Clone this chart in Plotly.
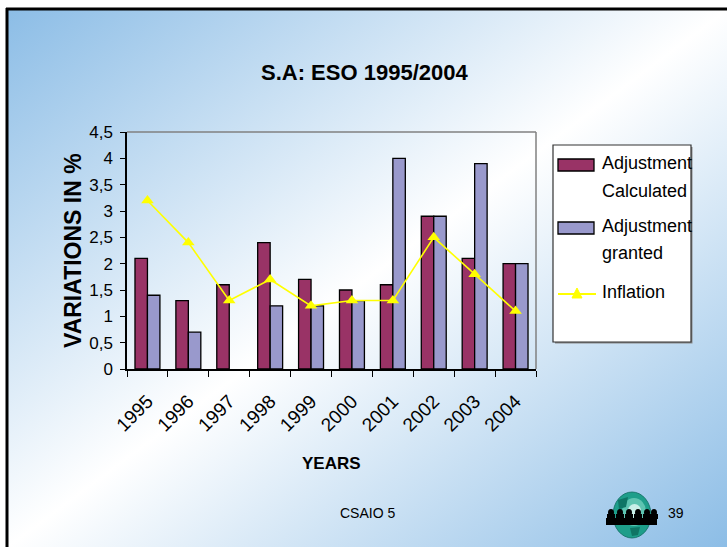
import base64
import plotly.graph_objects as go

# ---- data ----
YEARS = ["1995", "1996", "1997", "1998", "1999", "2000", "2001", "2002", "2003", "2004"]
ADJ_CALCULATED = [2.1, 1.3, 1.6, 2.4, 1.7, 1.5, 1.6, 2.9, 2.1, 2.0]
ADJ_GRANTED = [1.4, 0.7, None, 1.2, 1.2, 1.3, 4.0, 2.9, 3.9, 2.0]
INFLATION = [3.2, 2.4, 1.3, 1.7, 1.2, 1.3, 1.3, 2.5, 1.8, 1.1]
Y_TICK_VALUES = [0, 0.5, 1, 1.5, 2, 2.5, 3, 3.5, 4, 4.5]
Y_TICK_LABELS = ["0", "0,5", "1", "1,5", "2", "2,5", "3", "3,5", "4", "4,5"]

TITLE = "S.A: ESO 1995/2004"
X_TITLE = "YEARS"
Y_TITLE = "VARIATIONS IN %"
SERIES_NAMES = [["Adjustment", "Calculated"], ["Adjustment", "granted"], ["Inflation"]]
FOOTER = "CSAIO 5"
PAGE = "39"

# ---- geometry ----
W, H = 727, 547
PL, PR, PT, PB = 127, 536, 132, 369
FONT = "Liberation Sans, Arial, sans-serif"

C_CALC = "#993366"
C_GRANT = "#9999CC"
C_INFL = "#FFFF00"


def fx(px):
    return (px - PL) / (PR - PL)


def fy(py):
    return (PB - py) / (PB - PT)


fig = go.Figure()
fig.add_trace(go.Bar(x=YEARS, y=ADJ_CALCULATED, name=" ".join(SERIES_NAMES[0]),
                     marker=dict(color=C_CALC, line=dict(color="black", width=1.3)),
                     showlegend=False))
fig.add_trace(go.Bar(x=YEARS, y=ADJ_GRANTED, name=" ".join(SERIES_NAMES[1]),
                     marker=dict(color=C_GRANT, line=dict(color="black", width=1.3)),
                     showlegend=False))
fig.add_trace(go.Scatter(x=YEARS, y=INFLATION, name=SERIES_NAMES[2][0], mode="lines+markers",
                         line=dict(color=C_INFL, width=1.6),
                         marker=dict(symbol="triangle-up", size=11, color=C_INFL),
                         showlegend=False))

# slide background: diagonal blue-white-blue gradient
svg = ('<svg xmlns="http://www.w3.org/2000/svg" width="719" height="537" viewBox="0 0 719 537" '
       'preserveAspectRatio="none"><defs><linearGradient id="g" x1="0" y1="0" x2="1" y2="1">'
       '<stop offset="0" stop-color="#8CBDE6"/><stop offset="0.5" stop-color="#FFFFFF"/>'
       '<stop offset="1" stop-color="#8CBDE6"/></linearGradient></defs>'
       '<rect width="719" height="537" fill="url(#g)"/></svg>')
bg_src = "data:image/svg+xml;base64," + base64.b64encode(svg.encode()).decode()

shapes = []
# slide frame
shapes.append(dict(type="line", xref="paper", yref="paper", x0=fx(6), x1=fx(727), y0=fy(9), y1=fy(9),
                   line=dict(color="black", width=3)))
shapes.append(dict(type="line", xref="paper", yref="paper", x0=fx(7), x1=fx(7), y0=fy(8), y1=fy(547),
                   line=dict(color="black", width=3)))
# plot area border (top & right)
shapes.append(dict(type="line", xref="paper", yref="paper", x0=0, x1=1, y0=1, y1=1,
                   line=dict(color="#808080", width=1.5), layer="above"))
shapes.append(dict(type="line", xref="paper", yref="paper", x0=1, x1=1, y0=0, y1=1,
                   line=dict(color="#808080", width=1.5), layer="above"))

# legend box
shapes.append(dict(type="rect", xref="paper", yref="paper", x0=fx(555), x1=fx(692.5), y0=fy(343.5), y1=fy(147),
                   fillcolor="#8A8A8A", line=dict(width=0)))
shapes.append(dict(type="rect", xref="paper", yref="paper", x0=fx(553), x1=fx(691), y0=fy(342), y1=fy(145),
                   fillcolor="white", line=dict(color="#333333", width=1.2)))
shapes.append(dict(type="rect", xref="paper", yref="paper", x0=fx(558), x1=fx(594), y0=fy(171), y1=fy(159),
                   fillcolor=C_CALC, line=dict(color="black", width=1.3)))
shapes.append(dict(type="rect", xref="paper", yref="paper", x0=fx(558), x1=fx(594), y0=fy(234), y1=fy(222),
                   fillcolor=C_GRANT, line=dict(color="black", width=1.3)))
shapes.append(dict(type="line", xref="paper", yref="paper", x0=fx(558), x1=fx(596), y0=fy(294), y1=fy(294),
                   line=dict(color=C_INFL, width=2)))
tri = "M {:.5f} {:.5f} L {:.5f} {:.5f} L {:.5f} {:.5f} Z".format(
    fx(577), fy(288), fx(572), fy(298), fx(582), fy(298))
shapes.append(dict(type="path", xref="paper", yref="paper", path=tri,
                   fillcolor=C_INFL, line=dict(color=C_INFL, width=1)))

# globe logo in the footer
shapes.append(dict(type="circle", xref="paper", yref="paper", x0=fx(613), x1=fx(651), y0=fy(538), y1=fy(492),
                   fillcolor="#1E9E8A", line=dict(color="#0D6B5E", width=0.8)))
shapes.append(dict(type="circle", xref="paper", yref="paper", x0=fx(622), x1=fx(646), y0=fy(526), y1=fy(498),
                   fillcolor="#5EC4B1", line=dict(width=0)))
shapes.append(dict(type="circle", xref="paper", yref="paper", x0=fx(628), x1=fx(641), y0=fy(518), y1=fy(504),
                   fillcolor="#C9EFE8", line=dict(width=0)))
shapes.append(dict(type="path", xref="paper", yref="paper",
                   path="M {:.5f} {:.5f} L {:.5f} {:.5f} L {:.5f} {:.5f} L {:.5f} {:.5f} Z".format(
                       fx(618), fy(500), fx(628), fy(497), fx(626), fy(507), fx(619), fy(509)),
                   fillcolor="#0F7565", line=dict(width=0)))
shapes.append(dict(type="path", xref="paper", yref="paper",
                   path="M {:.5f} {:.5f} L {:.5f} {:.5f} L {:.5f} {:.5f} L {:.5f} {:.5f} Z".format(
                       fx(630), fy(528), fx(640), fy(527), fx(638), fy(535), fx(632), fy(536)),
                   fillcolor="#0F7565", line=dict(width=0)))
shapes.append(dict(type="rect", xref="paper", yref="paper", x0=fx(606), x1=fx(657), y0=fy(525), y1=fy(518),
                   fillcolor="black", line=dict(width=0)))
for hx in [611, 620, 629, 638, 647, 654]:
    shapes.append(dict(type="circle", xref="paper", yref="paper", x0=fx(hx - 3), x1=fx(hx + 3),
                       y0=fy(516), y1=fy(509), fillcolor="black", line=dict(width=0)))
    shapes.append(dict(type="rect", xref="paper", yref="paper", x0=fx(hx - 4), x1=fx(hx + 4),
                       y0=fy(519), y1=fy(514), fillcolor="black", line=dict(width=0)))

annotations = []


def label(text, px, py, size, bold=False, xanchor="center", angle=0):
    annotations.append(dict(text=("<b>%s</b>" % text) if bold else text, xref="paper", yref="paper",
                            x=fx(px), y=fy(py), xanchor=xanchor, yanchor="middle", showarrow=False,
                            textangle=angle, font=dict(family=FONT, size=size, color="black")))


label(TITLE, 364, 73, 22, bold=True)
label(X_TITLE, 331, 463, 17, bold=True)
label(Y_TITLE, 73, 251, 23, bold=True, angle=-90)
label(SERIES_NAMES[0][0], 600, 163, 18, xanchor="left")
label(SERIES_NAMES[0][1], 600, 191, 18, xanchor="left")
label(SERIES_NAMES[1][0], 600, 226, 18, xanchor="left")
label(SERIES_NAMES[1][1], 600, 253, 18, xanchor="left")
label(SERIES_NAMES[2][0], 600, 292, 18, xanchor="left")
label(FOOTER, 367, 513, 14)
label(PAGE, 676, 513, 14)

fig.update_layout(
    width=W, height=H, autosize=False,
    margin=dict(l=PL, r=W - PR, t=PT, b=H - PB, pad=0),
    paper_bgcolor="white", plot_bgcolor="#C0C0C0",
    barmode="group", bargap=0.39, bargroupgap=0,
    separators=", ",
    font=dict(family=FONT, size=17, color="black"),
    showlegend=False,
    shapes=shapes, annotations=annotations,
    images=[dict(source=bg_src, xref="paper", yref="paper", x=fx(8), y=fy(10),
                 sizex=(727 - 8) / (PR - PL), sizey=(547 - 10) / (PB - PT),
                 xanchor="left", yanchor="top", sizing="stretch", layer="below")],
)
fig.update_xaxes(type="category", range=[-0.5, len(YEARS) - 0.5], tickson="boundaries",
                 ticks="outside", ticklen=6, tickwidth=1.2,
                 tickcolor="black", showline=True, linecolor="black", linewidth=1.5, showgrid=False,
                 tickangle=-45, tickfont=dict(family=FONT, size=19), ticklabelstandoff=12,
                 automargin=False)
fig.update_yaxes(range=[0, 4.5], tickvals=Y_TICK_VALUES, ticktext=Y_TICK_LABELS, ticks="outside",
                 ticklen=5, tickwidth=1.2, tickcolor="black", showline=True, linecolor="black",
                 linewidth=1.5, showgrid=False, zeroline=False, tickfont=dict(family=FONT, size=17),
                 ticklabelstandoff=4, automargin=False)

fig.write_html("out.html")
